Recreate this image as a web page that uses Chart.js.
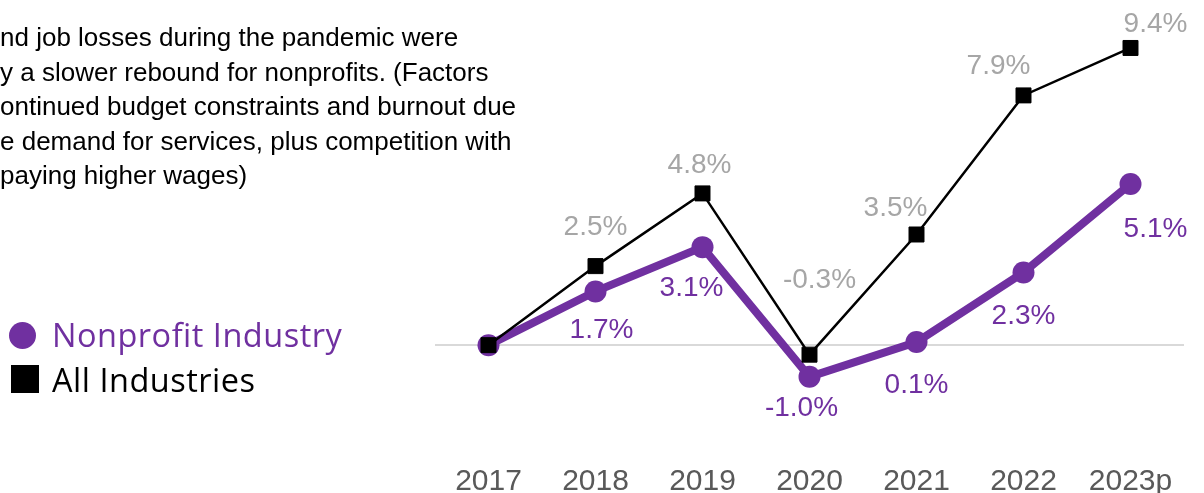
<!DOCTYPE html>
<html>
<head>
<meta charset="utf-8">
<script src="https://cdn.jsdelivr.net/npm/chart.js@4"></script>
<style>
    body { margin: 0; background: #fff; }
    #wrap { position: relative; width: 1204px; height: 493px; overflow: hidden; }
    #growthChart { position: absolute; left: 0; top: 0; }
    .note { position: absolute; left: 0; top: 20px; font-family: "Liberation Sans", Arial, sans-serif;
        font-size: 26px; line-height: 34.6px; color: #000; white-space: pre; }
    .legend { position: absolute; left: 0; font-family: "Open Sans", sans-serif; font-size: 32.5px; letter-spacing: 0.5px; white-space: nowrap; }
    .legend .mark { position: absolute; }
</style>
</head>
<body>
<div id="wrap">
    <canvas id="growthChart" width="1204" height="493"></canvas>
    <div class="note">nd job losses during the pandemic were
y a slower rebound for nonprofits. (Factors
ontinued budget constraints and burnout due
e demand for services, plus competition with
paying higher wages)</div>
    <div class="legend" style="top:312px;color:#7030A0">
        <span class="mark" style="left:9px;top:10px;width:27px;height:27px;border-radius:50%;background:#7030A0"></span>
        <span style="position:absolute;left:52px;top:0">Nonprofit Industry</span>
    </div>
    <div class="legend" style="top:357px;color:#000">
        <span class="mark" style="left:11px;top:8px;width:28px;height:28px;background:#000"></span>
        <span style="position:absolute;left:52px;top:0">All Industries</span>
    </div>
</div>
<script>
const years = ["2017", "2018", "2019", "2020", "2021", "2022", "2023p"];
const nonprofitGrowth = [0, 1.7, 3.1, -1.0, 0.1, 2.3, 5.1];
const allIndustriesGrowth = [0, 2.5, 4.8, -0.3, 3.5, 7.9, 9.4];

// label offsets from each point (px), index 0 has no label
const nonprofitLabelShift = [null, [6, 39], [-11, 41], [-8, 32], [0, 43], [0, 44], [25, 45]];
const allLabelShift = [null, [0, -39], [-3, -28], [10, -74], [-21, -26], [-25, -29], [25, -24]];

const PURPLE = "#7030A0";
const GRAY_LABEL = "#A6A6A6";

const pointLabels = {
    id: "pointLabels",
    afterDatasetsDraw(chart) {
        const ctx = chart.ctx;
        ctx.save();
        ctx.font = "28px 'Liberation Sans', Arial, sans-serif";
        ctx.textAlign = "center";
        ctx.textBaseline = "middle";
        chart.data.datasets.forEach((ds, di) => {
            const meta = chart.getDatasetMeta(di);
            meta.data.forEach((pt, i) => {
                const shift = ds.labelShift[i];
                if (!shift) return;
                ctx.fillStyle = ds.labelColor;
                ctx.fillText(ds.data[i].toFixed(1) + "%", pt.x + shift[0], pt.y + shift[1]);
            });
        });
        ctx.restore();
    }
};

new Chart(document.getElementById("growthChart"), {
    type: "line",
    data: {
        labels: years,
        datasets: [{
            label: "Nonprofit Industry",
            data: nonprofitGrowth,
            borderColor: PURPLE,
            backgroundColor: PURPLE,
            borderWidth: 8,
            pointRadius: 11,
            pointBorderWidth: 0,
            pointStyle: "circle",
            labelShift: nonprofitLabelShift,
            labelColor: PURPLE,
            order: 2
        }, {
            label: "All Industries",
            data: allIndustriesGrowth,
            borderColor: "#000",
            backgroundColor: "#000",
            borderWidth: 2.5,
            pointRadius: 10.6,
            pointBorderWidth: 1,
            pointStyle: "rect",
            labelShift: allLabelShift,
            labelColor: GRAY_LABEL,
            order: 1
        }]
    },
    options: {
        responsive: false,
        animation: false,
        layout: { padding: { left: 435, right: 20, top: 29, bottom: 0 } },
        plugins: {
            legend: { display: false },
            tooltip: { enabled: false }
        },
        scales: {
            x: {
                offset: true,
                grid: { display: false },
                border: { display: false },
                ticks: {
                    color: "#595959",
                    font: { family: "'Liberation Sans', Arial, sans-serif", size: 30 },
                    padding: 16
                },
                afterFit: s => { s.height = 53; }
            },
            y: {
                min: -3,
                max: 10,
                ticks: { display: false, stepSize: 1 },
                border: { display: false },
                grid: {
                    drawTicks: false,
                    lineWidth: 2,
                    color: c => c.tick && c.tick.value === 0 ? "#D9D9D9" : "rgba(0,0,0,0)"
                },
                afterFit: s => { s.width = 0; }
            }
        }
    },
    plugins: [pointLabels]
});
</script>
</body>
</html>
